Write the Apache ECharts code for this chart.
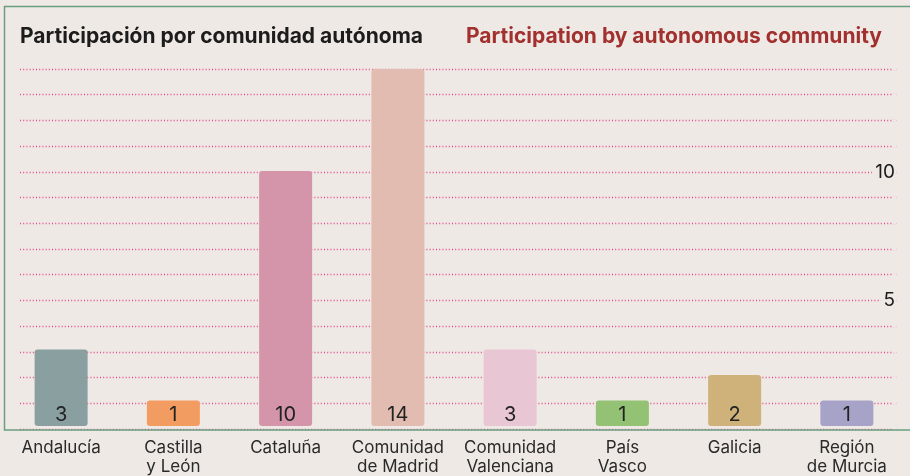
<!DOCTYPE html>
<html><head><meta charset="utf-8">
<script src="https://cdn.jsdelivr.net/npm/echarts@6/dist/echarts.min.js"></script>
<style>html,body{margin:0;padding:0;background:#eee9e4}#c{width:910px;height:476px}</style>
</head><body><div id="c"></div>
<script>
const categories = ["Andalucía","Castilla\ny León","Cataluña","Comunidad\nde Madrid","Comunidad\nValenciana","País\nVasco","Galicia","Región\nde Murcia"];
const values = [3,1,10,14,3,1,2,1];
const barColors = ["#8aa0a0","#f39c61","#d495aa","#e2bcb0","#e9c6d3","#93c274","#cfb27a","#a7a2c8"];
const yTickLabels = [5,10];
const titleEs = "Participación por comunidad autónoma";
const titleEn = "Participation by autonomous community";

const chart = echarts.init(document.getElementById('c'), null, {renderer:'canvas'});
const FONT = 'Inter, "Noto Sans", sans-serif';
chart.setOption({
  backgroundColor: '#eee9e4',
  animation: false,
  title: [
    {text: titleEs, left: 15, top: 21, textStyle:{fontFamily:FONT, fontWeight:700, fontSize:21, color:'#1c1c1c'}},
    {text: titleEn, right: 23, top: 21, textStyle:{fontFamily:FONT, fontWeight:700, fontSize:21, color:'#a1302f'}}
  ],
  graphic: [
    {type:'rect', shape:{x:4.5, y:6.5, width:930, height:423.5}, style:{fill:null, stroke:'#6a9e80', lineWidth:1.5}, z:100}
  ],
  grid: [
    {left:5, right:7, top:69, bottom:47},
    {left:20, right:13, top:69, bottom:47}
  ],
  xAxis: [
    {type:'category', gridIndex:0, data:categories,
     axisLine:{show:false}, axisTick:{show:false},
     axisLabel:{interval:0, margin:12, fontFamily:FONT, fontSize:17, color:'#2a2a2a', lineHeight:19}},
    {type:'value', gridIndex:1, show:false, min:0, max:1}
  ],
  yAxis: [
    {type:'value', gridIndex:0, min:0, max:14, interval:1, show:false},
    {type:'value', gridIndex:1, min:0, max:14, interval:1, position:'right',
     axisLine:{show:false}, axisTick:{show:false},
     splitLine:{show:true, lineStyle:{color:'#e8468e', type:[1,2.2], width:1.3}},
     axisLabel:{inside:true, margin:1, fontFamily:FONT, fontSize:19, color:'#1c1c1c',
       backgroundColor:'#eee9e4', padding:[0,1,2,3],
       formatter: v => yTickLabels.includes(v) ? String(v) : ''}}
  ],
  series: [{
    type:'bar', xAxisIndex:0, yAxisIndex:0, barWidth:53, z:5,
    data: values.map((v,i)=>({value:v, itemStyle:{color:barColors[i]}})),
    itemStyle:{borderRadius:3},
    label:{show:true, position:'insideBottom', distance:1, fontFamily:FONT, fontSize:20, color:'#222'}
  }]
});
</script></body></html>
